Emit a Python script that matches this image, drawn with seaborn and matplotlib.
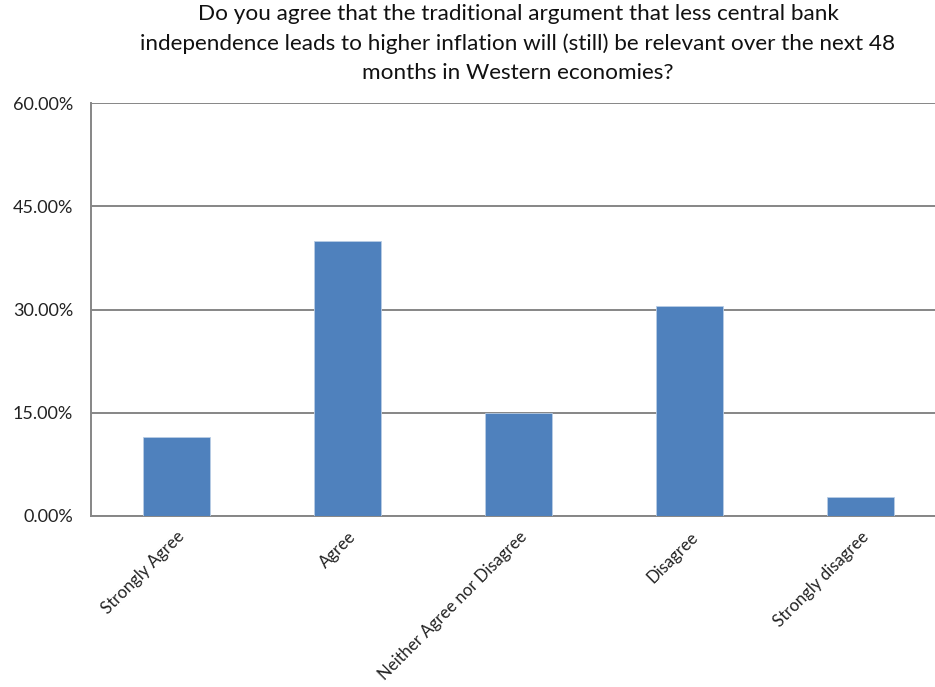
import matplotlib
matplotlib.use("Agg")
import matplotlib.pyplot as plt
import pandas as pd
import seaborn as sns

categories = ["Strongly Agree", "Agree", "Neither Agree nor Disagree", "Disagree", "Strongly disagree"]
values = [11.5, 40.0, 15.0, 30.5, 2.7]
yticks = [0, 15, 30, 45, 60]
title = ("Do you agree that the traditional argument that less central bank\n"
         "independence leads to higher inflation will (still) be relevant over the next 48\n"
         "months in Western economies?")

sns.set_theme(style="white")
plt.rcParams['font.family'] = ['Lato', 'DejaVu Sans']

df = pd.DataFrame({'cat': categories, 'val': values})

fig = plt.figure(figsize=(9.35, 6.87), dpi=100)
# plot area runs past the right edge of the picture, as in the cropped original
ax = fig.add_axes([91/935, 171/687, 855/935, 413/687])

sns.barplot(data=df, x='cat', y='val', color='#4F81BD', width=0.39,
            edgecolor='#b9cde5', linewidth=0.6, saturation=1, ax=ax, zorder=3)

ax.set_ylim(0, 60)
ax.set_xlim(-0.5, 4.5)
ax.set_yticks(yticks)
ax.set_yticklabels(['{:.2f}%'.format(v) for v in yticks], fontsize=13, color='#222222')
ax.yaxis.grid(True, color='#868686', linewidth=1.4, zorder=0)
ax.set_axisbelow(True)
ax.tick_params(axis='both', length=0)
ax.tick_params(axis='y', pad=13)
ax.set_xlabel('')
ax.set_ylabel('')

for s in ['top', 'right']:
    ax.spines[s].set_visible(False)
for s in ['left', 'bottom']:
    ax.spines[s].set_color('#868686')
    ax.spines[s].set_linewidth(1.4)

ax.set_xticks(range(len(categories)))
ax.set_xticklabels(categories, rotation=45, ha='right', rotation_mode='anchor',
                   fontsize=12.1, color='#222222')
ax.tick_params(axis='x', pad=9)

fig.text(518/935, 1 - 4/687, title, ha='center', va='top', fontsize=16.2,
         linespacing=1.55, color='#111111')

fig.savefig('out.png', dpi=100, facecolor='white')
